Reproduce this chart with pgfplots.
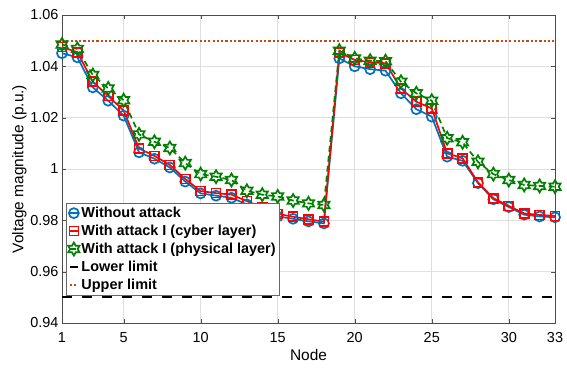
\documentclass[border=0pt]{standalone}
\usepackage{fontspec}
\setmainfont{Liberation Sans}
\usepackage{pgfplots}
\pgfplotsset{compat=1.18}
\definecolor{mblue}{rgb}{0,0.447,0.741}
\definecolor{mgreen}{rgb}{0,0.5,0}
\definecolor{mbrown}{rgb}{0.75,0.3,0.1}
\pgfdeclareplotmark{hexagram}{%
  \pgfpathmoveto{\pgfpointpolar{90}{\pgfplotmarksize}}%
  \pgfpathlineto{\pgfpointpolar{120}{0.577\pgfplotmarksize}}%
  \pgfpathlineto{\pgfpointpolar{150}{\pgfplotmarksize}}%
  \pgfpathlineto{\pgfpointpolar{180}{0.577\pgfplotmarksize}}%
  \pgfpathlineto{\pgfpointpolar{210}{\pgfplotmarksize}}%
  \pgfpathlineto{\pgfpointpolar{240}{0.577\pgfplotmarksize}}%
  \pgfpathlineto{\pgfpointpolar{270}{\pgfplotmarksize}}%
  \pgfpathlineto{\pgfpointpolar{300}{0.577\pgfplotmarksize}}%
  \pgfpathlineto{\pgfpointpolar{330}{\pgfplotmarksize}}%
  \pgfpathlineto{\pgfpointpolar{0}{0.577\pgfplotmarksize}}%
  \pgfpathlineto{\pgfpointpolar{30}{\pgfplotmarksize}}%
  \pgfpathlineto{\pgfpointpolar{60}{0.577\pgfplotmarksize}}%
  \pgfpathclose
  \pgfusepathqstroke
}
\begin{document}
\begin{tikzpicture}
\begin{axis}[
  scale only axis,
  width=493bp, height=308bp,
  xmin=1, xmax=33, ymin=0.94, ymax=1.06,
  xtick={1,5,10,15,20,25,30,33},
  ytick={0.94,0.96,0.98,1,1.02,1.04,1.06},
  yticklabels={0.94,0.96,0.98,1,1.02,1.04,1.06},
  xticklabel style={font=\fontsize{14.5}{16}\selectfont, yshift=-6bp},
  yticklabel style={font=\fontsize{14.5}{16}\selectfont},
  /pgf/number format/assume math mode=true,
  xlabel={Node}, ylabel={Voltage magnitude (p.u.)},
  label style={font=\fontsize{15.5}{17}\selectfont},
  xlabel style={yshift=0bp},
  ylabel style={yshift=-3bp},
  grid=major,
  major grid style={gray!25, line width=0.6pt},
  axis line style={black!70, line width=0.6pt},
  tick style={black!70},
  tick align=inside,
  major tick length=4bp,
  legend style={at={(0.008,0.39)}, anchor=north west, font=\fontsize{14.5}{16}\selectfont\bfseries,
    draw=black!60, line width=0.6pt, row sep=2bp, inner sep=2bp, cells={anchor=west}},
  legend image code/.code={\draw[#1] (0cm,0cm) -- (0.3cm,0cm); \path plot coordinates {(0.15cm,0cm)};},
]
\addplot[mblue, line width=1.7pt, mark=o, mark size=5bp, mark options={solid, line width=1.7pt}] coordinates {
(1,1.0451)(2,1.0435)(3,1.0318)(4,1.0266)(5,1.0208)(6,1.0065)(7,1.0040)(8,1.0006)(9,0.9951)(10,0.9905)(11,0.9896)(12,0.9888)(13,0.9862)(14,0.9838)(15,0.9815)(16,0.9806)(17,0.9796)(18,0.9788)
(19,1.0431)(20,1.0400)(21,1.0389)(22,1.0383)(23,1.0295)(24,1.0233)(25,1.0204)(26,1.0048)(27,1.0032)(28,0.9945)(29,0.9882)(30,0.9852)(31,0.9822)(32,0.9815)(33,0.9812)};
\addlegendentry{Without attack}
\addplot[red, line width=1.7pt, mark=square, mark size=4.5bp, mark options={solid, line width=1.7pt}] coordinates {
(1,1.0475)(2,1.0455)(3,1.0340)(4,1.0284)(5,1.0228)(6,1.0080)(7,1.0051)(8,1.0016)(9,0.9961)(10,0.9914)(11,0.9906)(12,0.9900)(13,0.9875)(14,0.9850)(15,0.9825)(16,0.9814)(17,0.9804)(18,0.9795)
(19,1.0453)(20,1.0425)(21,1.0416)(22,1.0412)(23,1.0314)(24,1.0262)(25,1.0236)(26,1.0061)(27,1.0042)(28,0.9948)(29,0.9886)(30,0.9856)(31,0.9827)(32,0.9821)(33,0.9817)};
\addlegendentry{With attack I (cyber layer)}
\addplot[mgreen, line width=1.7pt, dash pattern=on 6bp off 4bp, mark=hexagram, mark size=6.5bp, mark options={solid, line width=1.7pt}] coordinates {
(1,1.0485)(2,1.0468)(3,1.0366)(4,1.0314)(5,1.0268)(6,1.0135)(7,1.0106)(8,1.0082)(9,1.0023)(10,0.9980)(11,0.9970)(12,0.9957)(13,0.9915)(14,0.9900)(15,0.9893)(16,0.9877)(17,0.9866)(18,0.9860)
(19,1.0461)(20,1.0431)(21,1.0422)(22,1.0420)(23,1.0340)(24,1.0295)(25,1.0266)(26,1.0120)(27,1.0104)(28,1.0028)(29,0.9980)(30,0.9957)(31,0.9938)(32,0.9934)(33,0.9931)};
\addlegendentry{With attack I (physical layer)}
\addplot[black, line width=2.3pt, dash pattern=on 10bp off 10bp, mark=none] coordinates {(1,0.95)(33,0.95)};
\addlegendentry{Lower limit}
\addplot[mbrown, line width=2pt, dash pattern=on 2.2bp off 2.1bp, mark=none] coordinates {(1,1.05)(33,1.05)};
\addlegendentry{Upper limit}
\end{axis}
\path ([xshift=-62bp,yshift=15bp]current axis.north west) -- ([xshift=12bp,yshift=-48bp]current axis.south east);
\end{tikzpicture}
\end{document}
